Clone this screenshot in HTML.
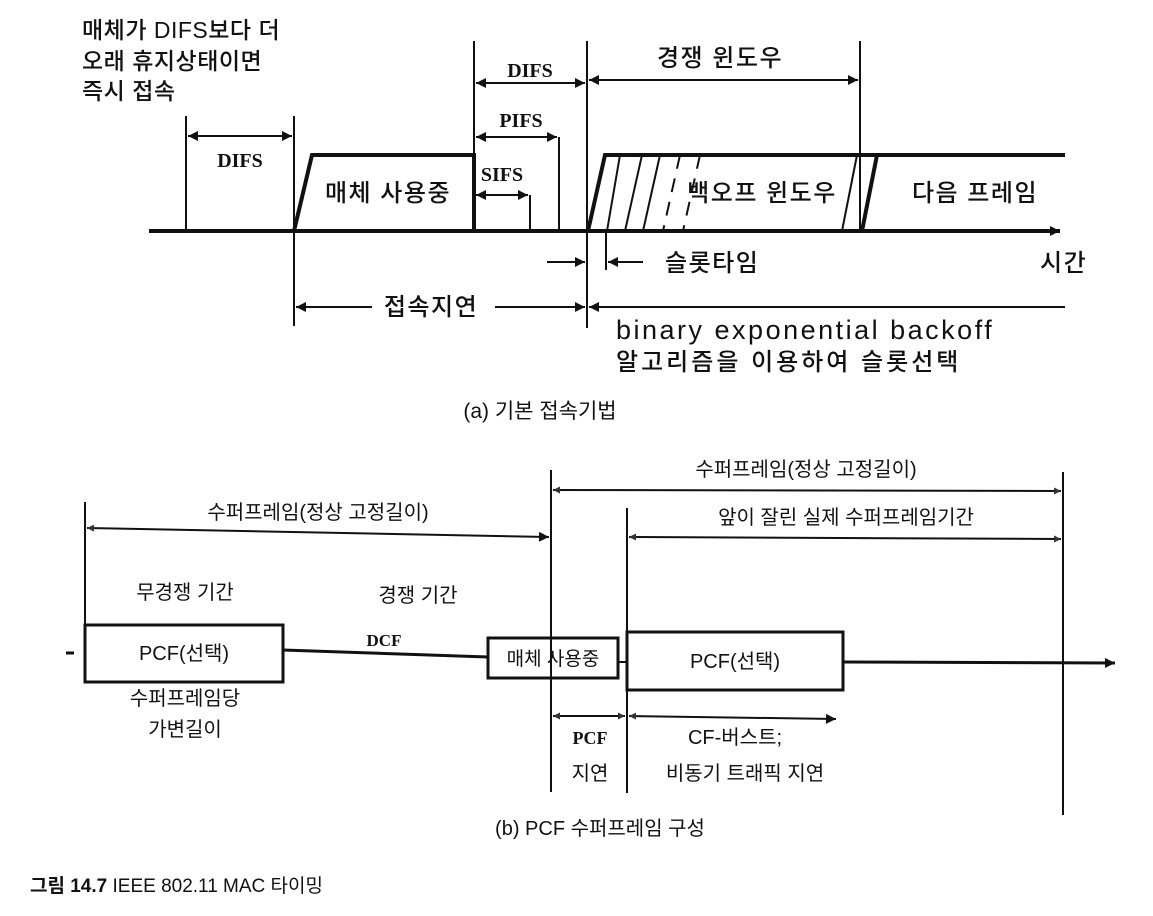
<!DOCTYPE html>
<html><head><meta charset="utf-8"><style>
html,body{margin:0;padding:0;background:#fff;}
svg{display:block;}
.k{font-family:"Liberation Sans","Noto Sans CJK KR",sans-serif;fill:#111;}
.a{font-size:24px;letter-spacing:1.5px;font-weight:500;}
.b{font-family:"Liberation Serif",serif;font-weight:bold;fill:#111;}
</style></head><body>
<svg width="1153" height="916" viewBox="0 0 1153 916" xmlns="http://www.w3.org/2000/svg">
<defs>
<marker id="a" viewBox="0 0 10 10" refX="10" refY="5" markerWidth="12" markerHeight="10" markerUnits="userSpaceOnUse" orient="auto-start-reverse"><path d="M0,0L10,5L0,10z" fill="#111"/></marker>
<marker id="s" viewBox="0 0 10 10" refX="10" refY="5" markerWidth="9" markerHeight="7" markerUnits="userSpaceOnUse" orient="auto-start-reverse"><path d="M0,0L10,5L0,10z" fill="#333"/></marker>
</defs>
<text class="k" x="82" y="38" font-size="23" font-weight="500" letter-spacing="0.5">매체가 DIFS보다 더</text>
<text class="k" x="82" y="69" font-size="23" font-weight="500" letter-spacing="0.5">오래 휴지상태이면</text>
<text class="k" x="82" y="99" font-size="23" font-weight="500" letter-spacing="0.5">즉시 접속</text>

<g stroke="#111" fill="none" stroke-width="2">
<line x1="149" y1="231" x2="1060" y2="231" stroke-width="4" marker-end="url(#a)"/>
<line x1="186" y1="116" x2="186" y2="231"/>
<line x1="294" y1="116" x2="294" y2="326"/>
<line x1="188" y1="136" x2="292" y2="136" marker-start="url(#a)" marker-end="url(#a)"/>
<polyline points="294,231 312,155 474,155 474,231" stroke-width="4"/>
<line x1="474" y1="41" x2="474" y2="231"/>
<line x1="476" y1="83" x2="585" y2="83" marker-start="url(#a)" marker-end="url(#a)"/>
<line x1="476" y1="137" x2="557" y2="137" marker-start="url(#a)" marker-end="url(#a)"/>
<line x1="559" y1="137" x2="559" y2="231"/>
<line x1="476" y1="195" x2="528" y2="195" marker-start="url(#a)" marker-end="url(#a)"/>
<line x1="530" y1="195" x2="530" y2="231"/>
<line x1="587" y1="41" x2="587" y2="328"/>
<line x1="547" y1="262" x2="585" y2="262" marker-end="url(#a)"/>
<line x1="372" y1="307" x2="296" y2="307" marker-end="url(#a)"/>
<line x1="495" y1="307" x2="585" y2="307" marker-end="url(#a)"/>
<line x1="589" y1="80" x2="858" y2="80" marker-start="url(#a)" marker-end="url(#a)"/>
<line x1="860" y1="41" x2="860" y2="231"/>
<polyline points="588,231 605,155 1065,155" stroke-width="4"/>
<line x1="877" y1="155" x2="862" y2="231" stroke-width="4"/>
<line x1="620" y1="155" x2="607" y2="231"/>
<line x1="642" y1="155" x2="625" y2="231"/>
<line x1="660" y1="155" x2="643" y2="231"/>
<line x1="680" y1="155" x2="663" y2="231" stroke-dasharray="14,10"/>
<line x1="700" y1="155" x2="683" y2="231" stroke-dasharray="14,10"/>
<line x1="857" y1="155" x2="842" y2="231"/>
<line x1="606" y1="232" x2="606" y2="270"/>
<line x1="643" y1="262" x2="608" y2="262" marker-end="url(#a)"/>
<line x1="1065" y1="307" x2="589" y2="307" marker-end="url(#a)"/>
</g>
<text class="b" x="240" y="167" font-size="20" text-anchor="middle">DIFS</text>
<text class="b" x="530" y="77" font-size="20" text-anchor="middle">DIFS</text>
<text class="b" x="521" y="127" font-size="20" text-anchor="middle">PIFS</text>
<text class="b" x="502" y="181" font-size="20" text-anchor="middle">SIFS</text>
<text class="k a" x="388" y="201" text-anchor="middle">매체 사용중</text>
<text class="k a" x="720" y="66" text-anchor="middle">경쟁 윈도우</text>
<text class="k a" x="762" y="201" text-anchor="middle">백오프 윈도우</text>
<text class="k a" x="975" y="201" text-anchor="middle">다음 프레임</text>
<text class="k a" x="665" y="271">슬롯타임</text>
<text class="k a" x="1040" y="271">시간</text>
<text class="k a" x="431" y="315" text-anchor="middle">접속지연</text>
<text class="k" x="616" y="339" font-size="27" letter-spacing="2.5" font-weight="500">binary exponential backoff</text>
<text class="k" x="616" y="370" font-size="24" letter-spacing="3" font-weight="500">알고리즘을 이용하여 슬롯선택</text>
<text class="k" x="540" y="418" font-size="21" text-anchor="middle">(a) 기본 접속기법</text>

<g stroke="#111" fill="none" stroke-width="2">
<line x1="85" y1="502" x2="85" y2="625"/>
<line x1="87" y1="528" x2="549" y2="537" marker-start="url(#s)" marker-end="url(#a)"/>
<line x1="551" y1="470" x2="551" y2="792"/>
<line x1="553" y1="490" x2="1061" y2="491" marker-start="url(#s)" marker-end="url(#s)"/>
<line x1="1063" y1="472" x2="1063" y2="815"/>
<line x1="627" y1="508" x2="627" y2="793"/>
<line x1="629" y1="537" x2="1061" y2="539" marker-start="url(#s)" marker-end="url(#s)"/>
<rect x="85" y="625" width="198" height="57" stroke-width="3"/>
<line x1="283" y1="650" x2="488" y2="657" stroke-width="3"/>
<rect x="488" y="638" width="130" height="40" stroke-width="3"/>
<line x1="618" y1="662" x2="627" y2="662"/>
<rect x="627" y="632" width="216" height="58" stroke-width="3"/>
<line x1="843" y1="662" x2="1115" y2="663" stroke-width="3" marker-end="url(#a)"/>
<line x1="66" y1="653" x2="74" y2="653" stroke-width="3"/>
<line x1="553" y1="716" x2="625" y2="716" marker-start="url(#s)" marker-end="url(#s)"/>
<line x1="629" y1="716" x2="836" y2="719" marker-start="url(#s)" marker-end="url(#a)"/>
</g>
<text class="k" x="318" y="519" font-size="20" text-anchor="middle">수퍼프레임(정상 고정길이)</text>
<text class="k" x="806" y="476" font-size="20" text-anchor="middle">수퍼프레임(정상 고정길이)</text>
<text class="k" x="846" y="524" font-size="20" text-anchor="middle">앞이 잘린 실제 수퍼프레임기간</text>
<text class="k" x="185" y="599" font-size="20" text-anchor="middle">무경쟁 기간</text>
<text class="k" x="418" y="602" font-size="20" text-anchor="middle">경쟁 기간</text>
<text class="b" x="384" y="646" font-size="17" text-anchor="middle">DCF</text>
<text class="k" x="184" y="660" font-size="20" text-anchor="middle">PCF(선택)</text>
<text class="k" x="553" y="665" font-size="19" text-anchor="middle">매체 사용중</text>
<text class="k" x="735" y="668" font-size="20" text-anchor="middle">PCF(선택)</text>
<text class="k" x="185" y="705" font-size="20" text-anchor="middle">수퍼프레임당</text>
<text class="k" x="185" y="736" font-size="20" text-anchor="middle">가변길이</text>
<text class="b" x="590" y="744" font-size="18" text-anchor="middle">PCF</text>
<text class="k" x="590" y="780" font-size="20" text-anchor="middle">지연</text>
<text class="k" x="735" y="744" font-size="20" text-anchor="middle">CF-버스트;</text>
<text class="k" x="745" y="780" font-size="20" text-anchor="middle">비동기 트래픽 지연</text>
<text class="k" x="600" y="835" font-size="20" text-anchor="middle">(b) PCF 수퍼프레임 구성</text>
<text class="k" x="30" y="892" font-size="19"><tspan font-weight="bold">그림 14.7</tspan> IEEE 802.11 MAC 타이밍</text>
</svg>
</body></html>
